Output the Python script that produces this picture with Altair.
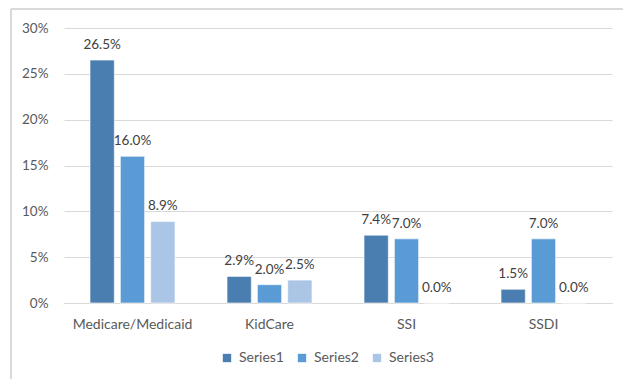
import altair as alt
import pandas as pd

categories = ["Medicare/Medicaid", "KidCare", "SSI", "SSDI"]
series_names = ["Series1", "Series2", "Series3"]
series1 = [0.265, 0.029, 0.074, 0.015]
series2 = [0.160, 0.020, 0.070, 0.070]
series3 = [0.089, 0.025, 0.000, 0.000]
colors = ["#4a7eb0", "#5b9bd5", "#abc5e6"]
y_ticks = [0, 0.05, 0.10, 0.15, 0.20, 0.25, 0.30]

rows = []
for name, vals in zip(series_names, [series1, series2, series3]):
    for c, v in zip(categories, vals):
        rows.append({"category": c, "series": name, "value": v})
df = pd.DataFrame(rows)

FONT = "Lato"

x = alt.X("category:N", sort=categories, title=None,
          scale=alt.Scale(paddingInner=0.38, paddingOuter=0.19),
          axis=alt.Axis(labelAngle=0, labelFontSize=14, labelColor="#595959",
                        labelPadding=14, ticks=False, domainColor="#d9d9d9",
                        labelFont=FONT, grid=False))
xo = alt.XOffset("series:N", sort=series_names,
                 scale=alt.Scale(paddingInner=0.2, paddingOuter=0.0))
y = alt.Y("value:Q", title=None,
          scale=alt.Scale(domain=[0, 0.30], nice=False),
          axis=alt.Axis(values=y_ticks, format=".0%", labelFontSize=13.5,
                        labelColor="#595959", labelPadding=16, ticks=False,
                        domain=False, gridColor="#d9d9d9", labelFont=FONT))

bars = alt.Chart(df).mark_bar(stroke="white", strokeWidth=0.6).encode(
    x=x, xOffset=xo, y=y,
    color=alt.Color("series:N", sort=series_names,
                    scale=alt.Scale(domain=series_names, range=colors),
                    legend=alt.Legend(title=None, orient="none", direction="horizontal",
                                      legendX=156, legendY=323, symbolType="square",
                                      symbolSize=70, symbolStrokeWidth=0,
                                      labelFontSize=14, labelColor="#595959",
                                      labelFont=FONT, columnPadding=11,
                                      symbolOffset=0, labelOffset=5)),
)

labels = alt.Chart(df).mark_text(baseline="alphabetic", dy=-11, fontSize=13.5,
                                 color="#404040", font=FONT).encode(
    x=x, xOffset=xo, y=y,
    text=alt.Text("value:Q", format=".1%"),
)

border_v = alt.Chart(df).mark_rule(color="#d9d9d9", strokeWidth=1.5, clip=False).encode(
    x=alt.value(-53), y=alt.value(-19), y2=alt.value(360))
border_h = alt.Chart(df).mark_rule(color="#d9d9d9", strokeWidth=1.5, clip=False).encode(
    x=alt.value(-53), x2=alt.value(570), y=alt.value(-19))

chart = alt.layer(border_v, border_h, bars, labels).properties(
    width=548, height=275,
    autosize=alt.AutoSizeParams(type="none"),
    padding={"left": 64, "top": 28, "right": 11, "bottom": 76},
).configure(background="white").configure_view(stroke=None, strokeWidth=0)

chart.save("out.html", embed_options={"renderer": "svg", "actions": False})
